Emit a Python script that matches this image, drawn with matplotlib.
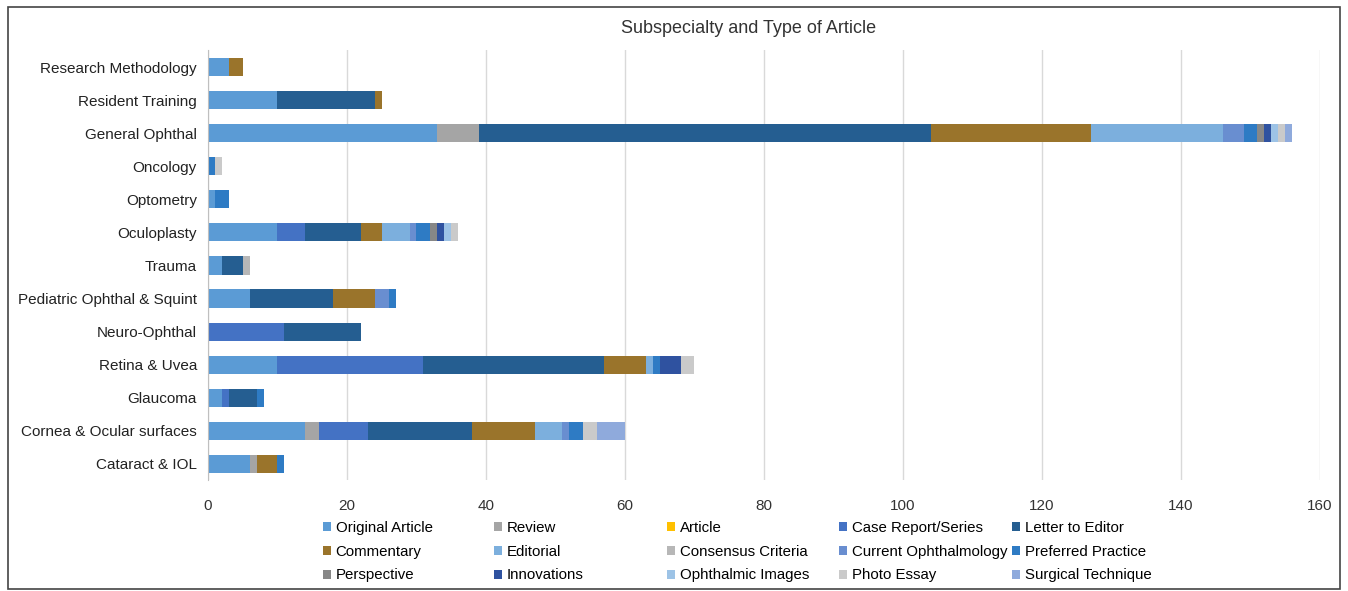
import matplotlib.pyplot as plt
from matplotlib.patches import Rectangle
import numpy as np

plt.rcParams['font.family'] = ['Liberation Sans', 'DejaVu Sans']

categories = ['Research Methodology', 'Resident Training', 'General Ophthal', 'Oncology',
              'Optometry', 'Oculoplasty', 'Trauma', 'Pediatric Ophthal & Squint',
              'Neuro-Ophthal', 'Retina & Uvea', 'Glaucoma', 'Cornea & Ocular surfaces',
              'Cataract & IOL']

# values per article type, in the category order above
original_article = [3, 10, 33, 0, 1, 10, 2, 6, 0, 10, 2, 14, 6]
review = [0, 0, 6, 0, 0, 0, 0, 0, 0, 0, 0, 2, 1]
article = [0, 0, 0, 0, 0, 0, 0, 0, 0, 0, 0, 0, 0]
case_report = [0, 0, 0, 0, 0, 4, 0, 0, 11, 21, 1, 7, 0]
letter_to_editor = [0, 14, 65, 0, 0, 8, 3, 12, 11, 26, 4, 15, 0]
commentary = [2, 1, 23, 0, 0, 3, 0, 6, 0, 6, 0, 9, 3]
editorial = [0, 0, 19, 0, 0, 4, 0, 0, 0, 1, 0, 4, 0]
consensus_criteria = [0, 0, 0, 0, 0, 0, 1, 0, 0, 0, 0, 0, 0]
current_ophthalmology = [0, 0, 3, 0, 0, 1, 0, 2, 0, 0, 0, 1, 0]
preferred_practice = [0, 0, 2, 1, 2, 2, 0, 1, 0, 1, 1, 2, 1]
perspective = [0, 0, 1, 0, 0, 1, 0, 0, 0, 0, 0, 0, 0]
innovations = [0, 0, 1, 0, 0, 1, 0, 0, 0, 3, 0, 0, 0]
ophthalmic_images = [0, 0, 1, 0, 0, 1, 0, 0, 0, 0, 0, 0, 0]
photo_essay = [0, 0, 1, 1, 0, 1, 0, 0, 0, 2, 0, 2, 0]
surgical_technique = [0, 0, 1, 0, 0, 0, 0, 0, 0, 0, 0, 4, 0]

series = [
    ('Original Article', original_article, '#5B9BD5'),
    ('Review', review, '#A5A5A5'),
    ('Article', article, '#FFC000'),
    ('Case Report/Series', case_report, '#4472C4'),
    ('Letter to Editor', letter_to_editor, '#255E91'),
    ('Commentary', commentary, '#9A742B'),
    ('Editorial', editorial, '#7CAFDD'),
    ('Consensus Criteria', consensus_criteria, '#B7B7B7'),
    ('Current Ophthalmology', current_ophthalmology, '#698ED0'),
    ('Preferred Practice', preferred_practice, '#2E7BC4'),
    ('Perspective', perspective, '#878787'),
    ('Innovations', innovations, '#2F52A0'),
    ('Ophthalmic Images', ophthalmic_images, '#9DC3E6'),
    ('Photo Essay', photo_essay, '#CACACA'),
    ('Surgical Technique', surgical_technique, '#8FAADC'),
]

fig = plt.figure(figsize=(13.48, 5.91), dpi=100)
ax = fig.add_axes([0.1543, 0.187, 0.8249, 0.7276])

y = np.arange(len(categories))
left = np.zeros(len(categories))
for name, vals, color in series:
    vals = np.array(vals, dtype=float)
    ax.barh(y, vals, left=left, height=0.55, color=color, label=name, zorder=3)
    left += vals

ax.set_ylim(len(categories) - 0.5, -0.5)
ax.set_yticks(y)
ax.set_yticklabels(categories, fontsize=11, color='#222222')
ax.set_xlim(0, 160)
ax.set_xticks(range(0, 161, 20))
ax.tick_params(axis='x', labelsize=11, colors='#333333', length=0, pad=13)
ax.tick_params(axis='y', length=0, pad=8)
ax.grid(axis='x', color='#D9D9D9', linewidth=1, zorder=0)
for s in ['top', 'right', 'bottom']:
    ax.spines[s].set_visible(False)
ax.spines['left'].set_color('#BFBFBF')
ax.spines['left'].set_zorder(4)

fig.text(0.555, 0.952, 'Subspecialty and Type of Article', ha='center', va='center',
         fontsize=13, color='#333333')

# Excel-style legend: 5 equal-width columns, filled row by row
handles, labels = ax.get_legend_handles_labels()
col_x = [323, 494, 667, 839, 1012]
for j, cx in enumerate(col_x):
    idx = [j, j + 5, j + 10]
    fig.legend([handles[i] for i in idx], [labels[i] for i in idx], ncol=1,
               loc='upper left', bbox_to_anchor=(cx / 1348, 0.119),
               frameon=False, fontsize=10.8, handlelength=0.55, handleheight=0.55,
               handletextpad=0.3, labelspacing=0.66, borderaxespad=0, borderpad=0)

fig.patches.append(Rectangle((0.006, 0.004), 0.988, 0.984, transform=fig.transFigure,
                             fill=False, edgecolor='#444444', linewidth=1.2))

fig.savefig('out.png', dpi=100)
